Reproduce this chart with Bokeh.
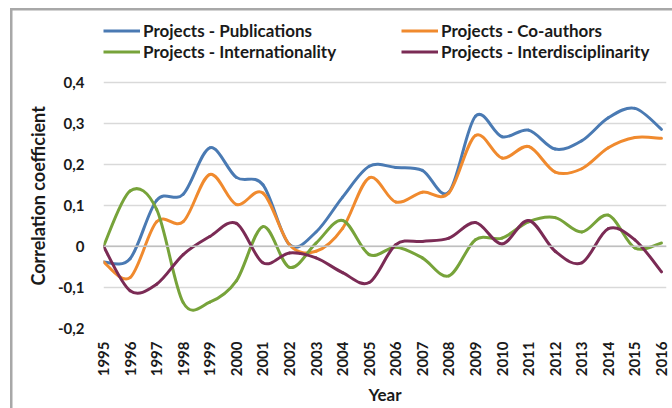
from bokeh.plotting import figure
from bokeh.models import (Range1d, FixedTicker, CustomJSTickFormatter, Legend, LegendItem,
                          Span, Title)
from bokeh.embed import file_html
from bokeh.resources import INLINE

years = list(range(1995, 2017))
publications = [-0.038, -0.030, 0.112, 0.127, 0.240, 0.168, 0.150, 0.004, 0.035, 0.120, 0.195,
                0.192, 0.185, 0.132, 0.317, 0.267, 0.283, 0.237, 0.257, 0.313, 0.336, 0.285]
coauthors = [-0.038, -0.076, 0.060, 0.060, 0.175, 0.102, 0.130, 0.004, -0.012, 0.044, 0.167,
             0.108, 0.132, 0.130, 0.270, 0.215, 0.243, 0.181, 0.189, 0.240, 0.265, 0.263]
internationality = [0.0, 0.135, 0.090, -0.137, -0.136, -0.084, 0.048, -0.051, 0.008, 0.063, -0.020,
                    -0.002, -0.028, -0.072, 0.016, 0.020, 0.060, 0.070, 0.035, 0.076, -0.004, 0.008]
interdisciplinarity = [0.0, -0.108, -0.092, -0.020, 0.024, 0.056, -0.040, -0.016, -0.028, -0.064, -0.088,
                       0.004, 0.012, 0.020, 0.058, 0.006, 0.063, -0.012, -0.040, 0.043, 0.016, -0.062]
labels = ["Projects - Publications", "Projects - Co-authors",
          "Projects - Internationality", "Projects - Interdisciplinarity"]
colors = ["#4A7AB3", "#F08A2E", "#77A33A", "#7B2B55"]
y_ticks = [-0.2, -0.1, 0.0, 0.1, 0.2, 0.3, 0.4]

FONT = "Lato"
TXT = "#1a1a1a"

# frame extends up to the top of the canvas so that the legend sits inside it
p = figure(width=672, height=408, output_backend="svg", toolbar_location=None,
           x_range=Range1d(1995, 2016.19), y_range=Range1d(-0.2, 0.5987),
           min_border_left=103, min_border_right=6, min_border_top=0, min_border_bottom=78)
p.outline_line_color = None
p.background_fill_color = None
p.border_fill_color = None
p.styles = {"box-shadow": "inset 10px 8px 0 0 #ffffff, inset 12.5px 10.5px 0 0 #a8a8a8"}

# axes
p.xaxis.ticker = FixedTicker(ticks=years)
p.xaxis.formatter = CustomJSTickFormatter(code="return tick.toFixed(0);")
p.xaxis.major_label_orientation = 1.5708
p.yaxis.ticker = FixedTicker(ticks=y_ticks)
p.yaxis.formatter = CustomJSTickFormatter(
    code="return Math.abs(tick) < 1e-9 ? '0' : tick.toFixed(1).replace('.', ',');")
for ax in (p.xaxis[0], p.yaxis[0]):
    ax.axis_line_color = None
    ax.major_tick_line_color = None
    ax.minor_tick_line_color = None
    ax.major_label_text_font = FONT
    ax.major_label_text_font_style = "bold"
    ax.major_label_text_font_size = "15px"
    ax.major_label_text_color = TXT
    ax.axis_label_text_font = FONT
    ax.axis_label_text_font_style = "bold"
    ax.axis_label_text_font_size = "17px"
    ax.axis_label_text_color = TXT
p.xaxis.axis_label = "Year"
p.xaxis.major_label_standoff = 7
p.yaxis.major_label_standoff = 13
p.xaxis.axis_label_standoff = 5

p.add_layout(Title(text="Correlation coefficient", align="left", offset=43, standoff=11,
                   text_font=FONT, text_font_style="bold", text_font_size="18px",
                   text_color=TXT), "left")

p.xgrid.grid_line_color = None
p.ygrid.ticker = FixedTicker(ticks=y_ticks)
p.ygrid.grid_line_color = "#d9d9d9"
p.ygrid.grid_line_width = 1.3

p.add_layout(Span(location=0, dimension="width", line_color="#bfbfbf", line_width=1.5))

# smoothed lines (Excel-style bezier segments)
series = [publications, coauthors, internationality, interdisciplinarity]
renderers = []
for vals, col in zip(series, colors):
    n = len(years)
    x0, y0, x1, y1, cx0, cy0, cx1, cy1 = [], [], [], [], [], [], [], []
    for i in range(n - 1):
        pm = i - 1 if i > 0 else i
        pp = i + 2 if i + 2 < n else i + 1
        x0.append(years[i]); y0.append(vals[i])
        x1.append(years[i + 1]); y1.append(vals[i + 1])
        cx0.append(years[i] + (years[i + 1] - years[pm]) / 6)
        cy0.append(vals[i] + (vals[i + 1] - vals[pm]) / 6)
        cx1.append(years[i + 1] - (years[pp] - years[i]) / 6)
        cy1.append(vals[i + 1] - (vals[pp] - vals[i]) / 6)
    p.bezier(x0=x0, y0=y0, x1=x1, y1=y1, cx0=cx0, cy0=cy0, cx1=cx1, cy1=cy1,
             line_color=col, line_width=3, line_cap="round")
    # single-point line: invisible on the plot, provides the legend swatch
    renderers.append(p.line(x=years[:1], y=vals[:1], line_color=col, line_width=3))

def add_legend(idx, loc):
    lg = Legend(items=[LegendItem(label=labels[i], renderers=[renderers[i]]) for i in idx],
                location=loc, orientation="vertical",
                padding=0, margin=0, spacing=0,
                glyph_width=37, glyph_height=21, label_height=21, label_standoff=3,
                border_line_color=None, background_fill_alpha=0,
                label_text_font=FONT, label_text_font_style="bold",
                label_text_font_size="17px", label_text_color=TXT)
    p.add_layout(lg, "center")

add_legend([0, 2], (0, 266))
add_legend([1, 3], (298, 266))

open("out.html", "w").write(file_html(p, INLINE))
